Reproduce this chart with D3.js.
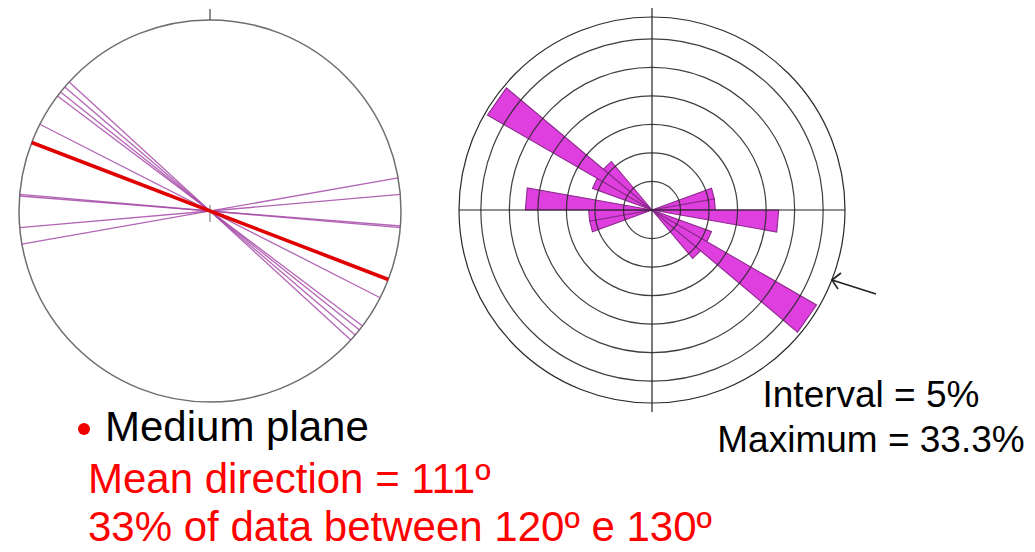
<!DOCTYPE html>
<html>
<head>
<meta charset="utf-8">
<script src="https://cdn.jsdelivr.net/npm/d3@7"></script>
<style>
  html, body { margin: 0; padding: 0; background: #fff; }
  svg { display: block; font-family: "Liberation Sans", Arial, sans-serif; }
</style>
</head>
<body>
<svg id="chart" width="1035" height="552"></svg>
<script>
// Strikes (degrees from north) of the measured vertical planes
const strikes = [80, 85, 94.5, 95, 117, 127, 128.5, 130.5, 132.5];
const meanStrike = 111;

// Rose diagram: 10-degree bins (start angle) and percentage of data per bin
const binStarts = [70, 80, 90, 110, 120, 130];
const binPercents = [11.1, 11.1, 22.2, 11.1, 33.3, 11.1];
const binWidth = 10;
const ringPercents = [5, 10, 15, 20, 25, 30];
const maxPercent = 33.3;

// Captions
const legendLines = ["Mean direction = 111º", "33% of data between 120º e 130º"];
const statLines = ["Interval = 5%", "Maximum = 33.3%"];

const svg = d3.select("#chart");
const toRad = d3.scaleLinear().domain([0, 360]).range([0, 2 * Math.PI]);

// ---------- Stereonet of planes ----------
const net = { cx: 210, cy: 211, r: 191 };
const gNet = svg.append("g").attr("transform", `translate(${net.cx},${net.cy})`);

gNet.append("circle").attr("r", net.r)
  .attr("fill", "none").attr("stroke", "#6e6e6e").attr("stroke-width", 1.5);
// north tick and centre mark
gNet.append("line").attr("x1", 0).attr("x2", 0).attr("y1", -net.r - 11).attr("y2", -net.r)
  .attr("stroke", "#444").attr("stroke-width", 1.2);
gNet.append("line").attr("x1", 0).attr("x2", 0).attr("y1", -6).attr("y2", 11)
  .attr("stroke", "#666").attr("stroke-width", 1);

const strikeLine = s => {
  const a = toRad(s);
  return {
    x1: -net.r * Math.sin(a), y1: net.r * Math.cos(a),
    x2: net.r * Math.sin(a), y2: -net.r * Math.cos(a)
  };
};

gNet.selectAll("line.plane").data(strikes).join("line")
  .attr("class", "plane")
  .each(function (d) {
    const p = strikeLine(d);
    d3.select(this).attr("x1", p.x1).attr("y1", p.y1).attr("x2", p.x2).attr("y2", p.y2);
  })
  .attr("stroke", "#a64aa8").attr("stroke-width", 1.3).attr("stroke-opacity", 0.85);

const mp = strikeLine(meanStrike);
gNet.append("line")
  .attr("x1", mp.x1).attr("y1", mp.y1).attr("x2", mp.x2).attr("y2", mp.y2)
  .attr("stroke", "#e00000").attr("stroke-width", 3.6);

// ---------- Rose diagram ----------
const rose = { cx: 652, cy: 210, frame: 193 };
const rScale = d3.scaleLinear().domain([0, maxPercent]).range([0, 190]);
const gRose = svg.append("g").attr("transform", `translate(${rose.cx},${rose.cy})`);

// axial data: every bin is drawn in both opposite directions
const petals = [];
binStarts.forEach((b, i) => {
  [0, 180].forEach(off => petals.push({ a0: b + off, a1: b + off + binWidth, v: binPercents[i] }));
});

const petalPath = d => d3.lineRadial()
  .angle(p => toRad(p[0]))
  .radius(p => rScale(p[1]))([[d.a0, 0], [d.a0, d.v], [d.a1, d.v]]) + "Z";

gRose.selectAll("path.petal").data(petals).join("path")
  .attr("class", "petal")
  .attr("d", petalPath)
  .attr("fill", "#df3fdf")
  .attr("stroke", "#8e2a8e").attr("stroke-width", 1.1);

gRose.selectAll("circle.ring").data(ringPercents).join("circle")
  .attr("class", "ring")
  .attr("r", d => rScale(d))
  .attr("fill", "none").attr("stroke", "#2a2a2a").attr("stroke-width", 1.2).attr("stroke-opacity", 0.9);

gRose.append("circle").attr("r", rose.frame)
  .attr("fill", "none").attr("stroke", "#2a2a2a").attr("stroke-width", 1.2);

gRose.append("line").attr("x1", 0).attr("x2", 0).attr("y1", -rose.frame - 9).attr("y2", rose.frame + 9)
  .attr("stroke", "#222").attr("stroke-width", 1.2);
gRose.append("line").attr("x1", -rose.frame).attr("x2", rose.frame).attr("y1", 0).attr("y2", 0)
  .attr("stroke", "#222").attr("stroke-width", 1.2);

// arrow pointing at the outer ring (maximum)
const arrow = svg.append("g").attr("stroke", "#222").attr("stroke-width", 1.6).attr("fill", "none");
arrow.append("line").attr("x1", 876).attr("y1", 294).attr("x2", 832).attr("y2", 280);
arrow.append("path").attr("d", "M841,273 L832,280 L838,289");

// ---------- Captions ----------
svg.append("circle").attr("cx", 84).attr("cy", 429).attr("r", 6).attr("fill", "#ee0000");
svg.append("text").attr("x", 105).attr("y", 441)
  .attr("font-size", 42).attr("fill", "#000").text("Medium plane");

svg.selectAll("text.legend").data(legendLines).join("text")
  .attr("class", "legend")
  .attr("x", 88).attr("y", (d, i) => 493 + i * 48)
  .attr("font-size", 42).attr("fill", "#ff0000").text(d => d);

svg.selectAll("text.stat").data(statLines).join("text")
  .attr("class", "stat")
  .attr("x", 871).attr("y", (d, i) => 407 + i * 45)
  .attr("text-anchor", "middle")
  .attr("font-size", 37).attr("fill", "#000").text(d => d);
</script>
</body>
</html>
